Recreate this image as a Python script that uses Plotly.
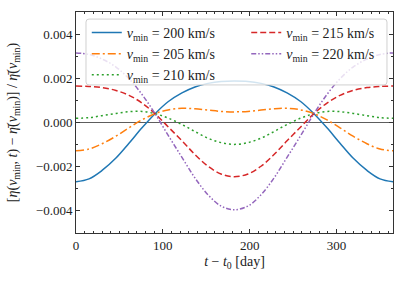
import plotly.graph_objects as go

# time axis (days)
days = [0, 15, 30, 46, 61, 76, 91, 106, 122, 137, 152, 167, 182,
        198, 213, 228, 243, 259, 274, 289, 304, 319, 335, 350, 365]

# values (units of 1e-4)
v200 = [-26.8, -25.5, -21.7, -16.1, -9.4, -2.4, 4.0, 9.4, 13.4, 16.1, 17.7, 18.6, 18.8,
        18.6, 17.7, 16.1, 13.4, 9.4, 4.0, -2.4, -9.4, -16.1, -21.7, -25.5, -26.8]
v205 = [-12.8, -12.0, -9.6, -6.2, -2.4, 1.2, 4.0, 5.7, 6.4, 6.2, 5.6, 5.0, 4.8,
        5.0, 5.6, 6.2, 6.4, 5.7, 4.0, 1.2, -2.4, -6.2, -9.6, -12.0, -12.8]
v210 = [1.9, 2.2, 3.1, 4.1, 4.9, 5.0, 4.0, 2.0, -0.9, -4.1, -7.1, -9.1, -9.9,
        -9.1, -7.1, -4.1, -0.9, 2.0, 4.0, 5.0, 4.9, 4.1, 3.1, 2.2, 1.9]
v215 = [16.5, 16.3, 15.8, 14.5, 12.3, 8.8, 4.0, -1.9, -8.3, -14.5, -19.8, -23.3, -24.5,
        -23.3, -19.8, -14.5, -8.3, -1.9, 4.0, 8.8, 12.3, 14.5, 15.8, 16.3, 16.5]
v220 = [31.5, 30.8, 28.7, 25.1, 19.8, 12.7, 4.0, -5.7, -15.8, -25.1, -32.7, -37.8, -39.5,
        -37.8, -32.7, -25.1, -15.8, -5.7, 4.0, 12.7, 19.8, 25.1, 28.7, 30.8, 31.5]

scale = 1e-4
series = [
    ("200", v200, "#1f77b4", "solid", "legend"),
    ("205", v205, "#ff7f0e", "8px,3px,2px,3px", "legend"),
    ("210", v210, "#2ca02c", "2px,3px", "legend"),
    ("215", v215, "#d62728", "6px,3px", "legend2"),
    ("220", v220, "#9467bd", "5px,2px,1.5px,2px,1.5px,2px", "legend2"),
]

xtick_vals = [0, 100, 200, 300]
ytick_vals = [-0.004, -0.002, 0.0, 0.002, 0.004]
ytick_text = ["\u22120.004", "\u22120.002", "0.000", "0.002", "0.004"]

FONT = "Liberation Serif"

fig = go.Figure()
for name, vals, color, dash, leg in series:
    fig.add_trace(go.Scatter(
        x=days, y=[v * scale for v in vals], mode="lines",
        line=dict(color=color, width=1.5, dash=dash, shape="spline", smoothing=1.0),
        name=f"<i>v</i><sub>min</sub> = {name} km/s",
        legend=leg,
    ))

fig.add_hline(y=0, line=dict(color="#333333", width=0.8), layer="below")

# legend frame (rounded rectangle, semi-transparent white)
x0, x1, y0, y1 = 0.0315, 0.981, 0.670, 0.968
rx, ry = 3 / 317, 3 / 221
path = (f"M {x0+rx},{y0} L {x1-rx},{y0} Q {x1},{y0} {x1},{y0+ry} "
        f"L {x1},{y1-ry} Q {x1},{y1} {x1-rx},{y1} L {x0+rx},{y1} "
        f"Q {x0},{y1} {x0},{y1-ry} L {x0},{y0+ry} Q {x0},{y0} {x0+rx},{y0} Z")
fig.add_shape(type="path", path=path, xref="paper", yref="paper",
              fillcolor="rgba(255,255,255,0.8)", line=dict(color="#d0d0d0", width=1),
              layer="above")

axis_common = dict(
    showgrid=False, zeroline=False, showline=True, linecolor="#333333", linewidth=1,
    mirror="ticks", ticks="inside", ticklen=4, tickcolor="#333333",
    tickfont=dict(family=FONT, size=13, color="#222222"),
    automargin=False,
)

fig.update_xaxes(
    range=[0, 365], tickvals=xtick_vals,
    minor=dict(dtick=10, ticks="inside", ticklen=2, tickcolor="#333333"),
    title=dict(text="<i>t</i> \u2212 <i>t</i><sub>0</sub> [day]", font=dict(family=FONT, size=14), standoff=4),
    **axis_common,
)
fig.update_yaxes(
    range=[-0.005, 0.005], tickvals=ytick_vals, ticktext=ytick_text,
    minor=dict(dtick=0.001, ticks="inside", ticklen=2, tickcolor="#333333"),
    title=dict(text="[<i>\u03b7</i>(<i>v</i><sub>min</sub>, <i>t</i>) \u2212 <i>\u03b7\u0304</i>(<i>v</i><sub>min</sub>)] / <i>\u03b7\u0304</i>(<i>v</i><sub>min</sub>)",
               font=dict(family=FONT, size=14), standoff=14),
    **axis_common,
)

legend_common = dict(
    orientation="v", xanchor="left", yanchor="top",
    bgcolor="rgba(0,0,0,0)", borderwidth=0,
    font=dict(family=FONT, size=14, color="#222222"), tracegroupgap=0,
)

fig.update_layout(
    width=407, height=281,
    margin=dict(l=76, r=14, t=12, b=48),
    paper_bgcolor="white", plot_bgcolor="white",
    font=dict(family=FONT, color="#222222"),
    showlegend=True,
    legend=dict(x=0.034, y=0.978, **legend_common),
    legend2=dict(x=0.537, y=0.978, **legend_common),
)

fig.write_html("out.html", post_script="document.body.style.margin='0';",
               config={"displayModeBar": False})
